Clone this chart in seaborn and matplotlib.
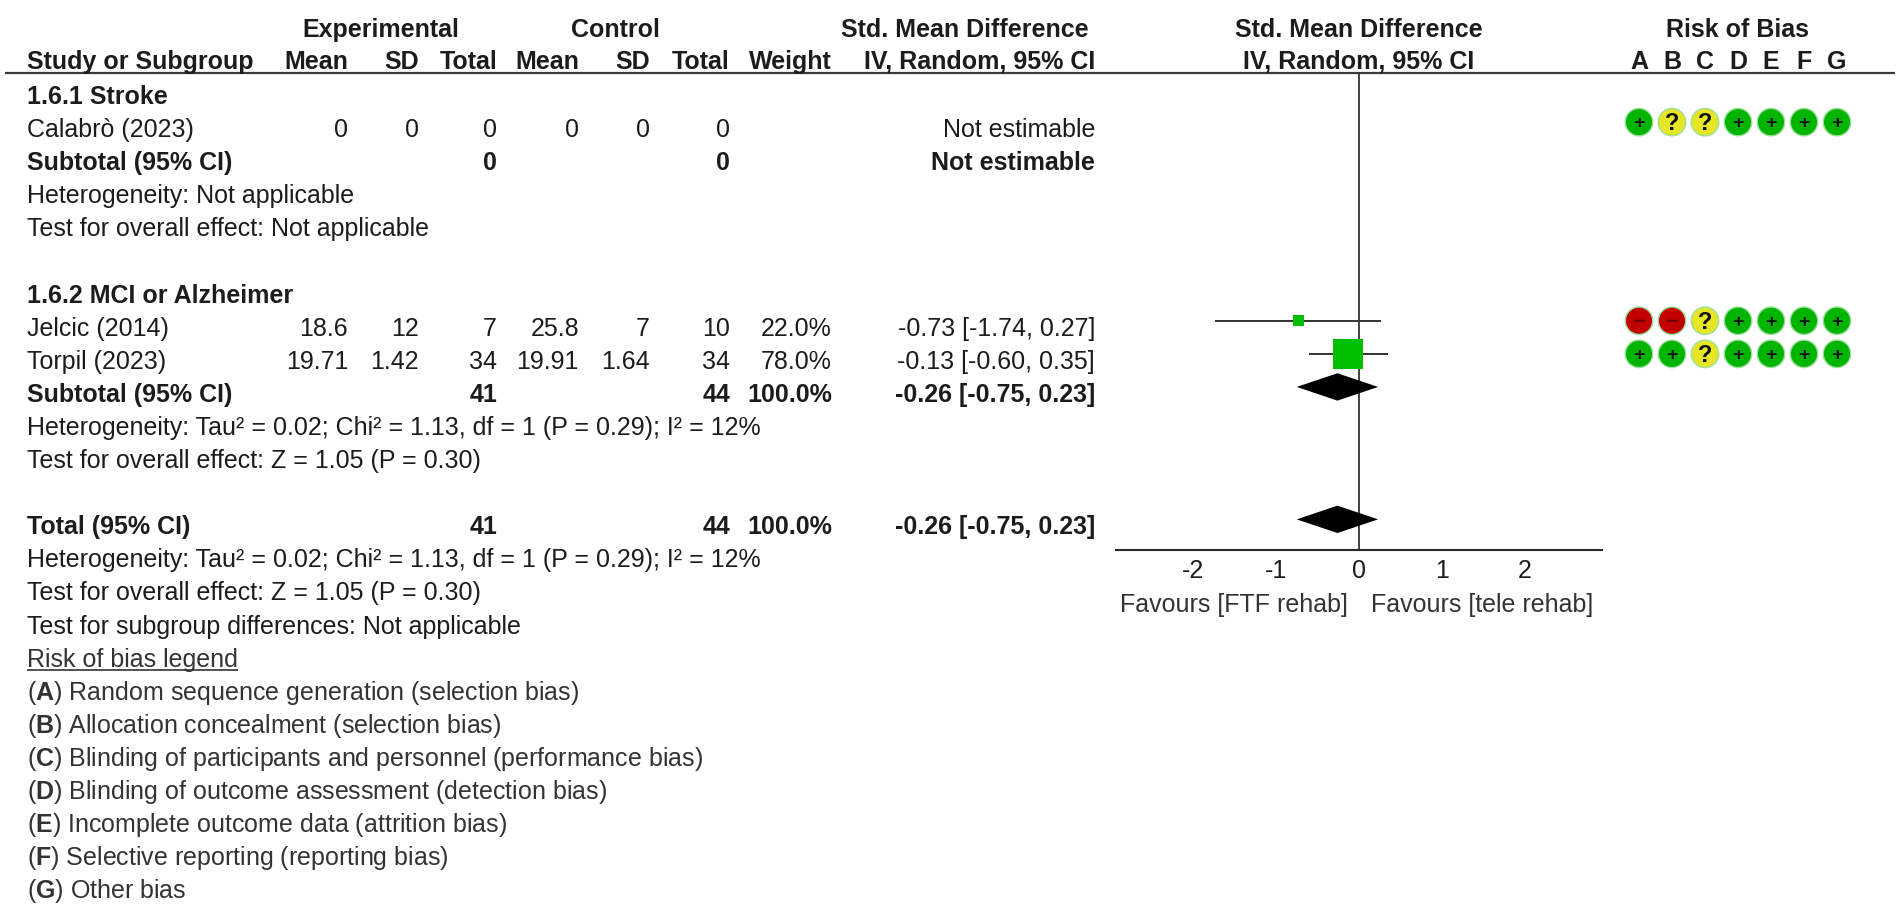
import matplotlib
matplotlib.use("Agg")
import matplotlib.pyplot as plt
import matplotlib.transforms as mtransforms
import pandas as pd
import seaborn as sns

# ---------------- data ----------------
stroke_study = "Calabrò (2023)"
stroke_values = [0, 0, 0, 0, 0, 0]          # mean, sd, n (exp) / mean, sd, n (ctl)

studies = ["Jelcic (2014)", "Torpil (2023)"]
exp_mean = [18.6, 19.71]
exp_sd = [12, 1.42]
exp_n = [7, 34]
ctl_mean = [25.8, 19.91]
ctl_sd = [7, 1.64]
ctl_n = [10, 34]
weights = [22.0, 78.0]
smd = [-0.73, -0.13]
ci_lo = [-1.74, -0.60]
ci_hi = [0.27, 0.35]

pooled_est = -0.26
pooled_lo = -0.75
pooled_hi = 0.23
exp_total = 41
ctl_total = 44

xticks = [-2, -1, 0, 1, 2]

rob_domains = ["A", "B", "C", "D", "E", "F", "G"]
rob_calabro = ["+", "?", "?", "+", "+", "+", "+"]
rob_jelcic = ["-", "-", "?", "+", "+", "+", "+"]
rob_torpil = ["+", "+", "?", "+", "+", "+", "+"]

rob_legend = [
    "Random sequence generation (selection bias)",
    "Allocation concealment (selection bias)",
    "Blinding of participants and personnel (performance bias)",
    "Blinding of outcome assessment (detection bias)",
    "Incomplete outcome data (attrition bias)",
    "Selective reporting (reporting bias)",
    "Other bias",
]

het_sub = "Heterogeneity: Tau² = 0.02; Chi² = 1.13, df = 1 (P = 0.29); I² = 12%"
test_sub = "Test for overall effect: Z = 1.05 (P = 0.30)"

# ---------------- style ----------------
sns.set_theme(style="white")
plt.rcParams["font.family"] = ["Liberation Sans", "DejaVu Sans"]
plt.rcParams["mathtext.fontset"] = "custom"
plt.rcParams["mathtext.rm"] = "Liberation Sans"
plt.rcParams["mathtext.bf"] = "Liberation Sans:bold"

FS = 18
TXT = "#1c1c1c"
GREY = "#333333"
GREEN = "#00bf00"
ROB_COLORS = {"+": "#00b400", "?": "#e6e626", "-": "#c20000"}

W, H = 1902, 913
ROW0, ROWH = 95, 33.1          # pixel centre of row 0 and row pitch
BASE = 0.27                    # baseline below the row centre (rows)
SHIFT = 0.18                   # graphic marks sit a little above text centre


def row_at(px):
    return (px - ROW0) / ROWH


fig = plt.figure(figsize=(W / 100, H / 100), dpi=100)
fig.patch.set_facecolor("white")

ax = fig.add_axes([0, 0, 1, 1])
ax.set_xlim(0, W)
ax.set_ylim(row_at(H), row_at(0))
ax.axis("off")


def put(x, row, s, ha="left", bold=False, color=TXT, **kw):
    return ax.text(x, row + BASE, s, ha=ha, va="baseline", fontsize=FS,
                   fontweight="bold" if bold else "normal", color=color, **kw)


LEFT = 27
COLS = [348, 419, 497, 579, 650, 730, 832]
CI_R = 1095

# header
H1, H2 = -2.02, -1.06
put(381, H1, "Experimental", ha="center", bold=True)
put(615, H1, "Control", ha="center", bold=True)
put(965, H1, "Std. Mean Difference", ha="center", bold=True)
put(LEFT, H2, "Study or Subgroup", bold=True)
for x, lab in zip(COLS, ["Mean", "SD", "Total", "Mean", "SD", "Total", "Weight"]):
    put(x, H2, lab, ha="right", bold=True)
put(CI_R, H2, "IV, Random, 95% CI", ha="right", bold=True)
ax.hlines(row_at(73), 5, 1895, color="#3a3a3a", lw=1.6)

# subgroup 1.6.1
put(LEFT, 0, "1.6.1 Stroke", bold=True)
put(LEFT, 1, stroke_study)
for x, v in zip(COLS[:6], stroke_values):
    put(x, 1, f"{v:g}", ha="right")
put(CI_R, 1, "Not estimable", ha="right")
put(LEFT, 2, "Subtotal (95% CI)", bold=True)
put(COLS[2], 2, "0", ha="right", bold=True)
put(COLS[5], 2, "0", ha="right", bold=True)
put(CI_R, 2, "Not estimable", ha="right", bold=True)
put(LEFT, 3, "Heterogeneity: Not applicable")
put(LEFT, 4, "Test for overall effect: Not applicable")

# subgroup 1.6.2
study_rows = [7, 8]
put(LEFT, 6, "1.6.2 MCI or Alzheimer", bold=True)
for i, r in enumerate(study_rows):
    put(LEFT, r, studies[i])
    vals = [exp_mean[i], exp_sd[i], exp_n[i], ctl_mean[i], ctl_sd[i], ctl_n[i]]
    for x, v in zip(COLS[:6], vals):
        put(x, r, f"{v:g}", ha="right")
    put(COLS[6], r, f"{weights[i]:.1f}%", ha="right")
    put(CI_R, r, f"{smd[i]:.2f} [{ci_lo[i]:.2f}, {ci_hi[i]:.2f}]", ha="right")

pooled_txt = f"{pooled_est:.2f} [{pooled_lo:.2f}, {pooled_hi:.2f}]"
for r, lab in [(9, "Subtotal (95% CI)"), (13, "Total (95% CI)")]:
    put(LEFT, r, lab, bold=True)
    put(COLS[2], r, f"{exp_total}", ha="right", bold=True)
    put(COLS[5], r, f"{ctl_total}", ha="right", bold=True)
    put(COLS[6], r, f"{sum(weights):.1f}%", ha="right", bold=True)
    put(CI_R, r, pooled_txt, ha="right", bold=True)
put(LEFT, 10, het_sub)
put(LEFT, 11, test_sub)
put(LEFT, 14, het_sub)
put(LEFT, 15, test_sub)
put(LEFT, 16, "Test for subgroup differences: Not applicable")

# risk of bias legend
leg_title = put(LEFT, 17, "Risk of bias legend", color=GREY)
for i, (d, txt) in enumerate(zip(rob_domains, rob_legend)):
    put(LEFT, 18 + i, "($\\mathbf{" + d + "}$) " + txt, color=GREY)

# ---------------- forest plot ----------------
ZERO_PX, UNIT_PX = 1359, 83
AX_TOP, AX_BOT = 73, 550
XL = 2.93
fx = fig.add_axes([(ZERO_PX - XL * UNIT_PX) / W, 1 - AX_BOT / H,
                   2 * XL * UNIT_PX / W, (AX_BOT - AX_TOP) / H])
fx.set_xlim(-XL, XL)
fx.set_ylim(row_at(AX_BOT) + SHIFT, row_at(AX_TOP) + SHIFT)
fx.patch.set_alpha(0)
for side in ["top", "left", "right"]:
    fx.spines[side].set_visible(False)
fx.spines["bottom"].set_color("#2a2a2a")
fx.spines["bottom"].set_linewidth(1.5)
fx.set_yticks([])
fx.set_xticks(xticks)
fx.set_xticklabels([f"{t:g}" for t in xticks])
fx.tick_params(axis="x", direction="inout", length=8.6, width=1.3,
               color="#2a2a2a", pad=2.5, labelsize=FS, labelcolor=TXT)
fx.axvline(0, color="#333333", lw=1.3, zorder=1)

fx.hlines(study_rows, ci_lo, ci_hi, color="#333333", lw=1.4, zorder=2)
sides = [4 + 0.33 * w for w in weights]            # square side in px
sns.scatterplot(x=smd, y=study_rows, marker="s", s=[(sd_ * 0.72) ** 2 for sd_ in sides],
                color=GREEN, linewidth=0, legend=False, ax=fx, zorder=3)
DH = 13.7 / ROWH
for r in [9, 13]:
    fx.fill([pooled_lo, pooled_est, pooled_hi, pooled_est],
            [r, r - DH, r, r + DH], color="black", lw=0, zorder=3)

tr_f = mtransforms.blended_transform_factory(fx.transData, ax.transData)
ax.text(0, H1 + BASE, "Std. Mean Difference", transform=tr_f, ha="center",
        va="baseline", fontsize=FS, fontweight="bold", color=TXT)
ax.text(0, H2 + BASE, "IV, Random, 95% CI", transform=tr_f, ha="center",
        va="baseline", fontsize=FS, fontweight="bold", color=TXT)
ax.text(-0.14, row_at(603) + BASE, "Favours [FTF rehab]", transform=tr_f,
        ha="right", va="baseline", fontsize=FS, color=GREY)
ax.text(0.14, row_at(603) + BASE, "Favours [tele rehab]", transform=tr_f,
        ha="left", va="baseline", fontsize=FS, color=GREY)

# ---------------- risk of bias dots ----------------
RX0, RDX = 1639, 33
rx = fig.add_axes([0, 0, 1, 1])
rx.set_xlim(-RX0 / RDX, (W - RX0) / RDX)
rx.set_ylim(row_at(H) + SHIFT, row_at(0) + SHIFT)
rx.axis("off")

rob_rows = {"Calabrò (2023)": 1, "Jelcic (2014)": 7, "Torpil (2023)": 8}
rob_df = pd.DataFrame(
    [(s, rob_rows[s], i, j)
     for s, judg in zip(rob_rows, [rob_calabro, rob_jelcic, rob_torpil])
     for i, j in enumerate(judg)],
    columns=["study", "row", "domain", "judgement"])
sns.scatterplot(data=rob_df, x="domain", y="row", hue="judgement",
                palette=ROB_COLORS, s=390, edgecolor="#9be09b", linewidth=1.0,
                legend=False, ax=rx, zorder=2)
sym = {"+": ("+", 14, "#101010"), "?": ("?", 17, "#101010"), "-": ("−", 16, "#6e0000")}
for _, rw in rob_df.iterrows():
    ch, fs, col = sym[rw["judgement"]]
    rx.text(rw["domain"], rw["row"] + 0.05, ch, ha="center", va="center",
            fontsize=fs, fontweight="bold", color=col, zorder=3)

tr_r = mtransforms.blended_transform_factory(rx.transData, ax.transData)
ax.text(3, H1 + BASE, "Risk of Bias", transform=tr_r, ha="center",
        va="baseline", fontsize=FS, fontweight="bold", color=TXT)
for i, d in enumerate(rob_domains):
    ax.text(i, H2 + BASE, d, transform=tr_r, ha="center", va="baseline",
            fontsize=FS, fontweight="bold", color=TXT)

# underline the legend title
fig.canvas.draw()
bb = leg_title.get_window_extent().transformed(ax.transData.inverted())
ax.hlines(row_at(670), bb.x0, bb.x1, color=GREY, lw=1.2)

fig.savefig("out.png", dpi=100, facecolor="white")
